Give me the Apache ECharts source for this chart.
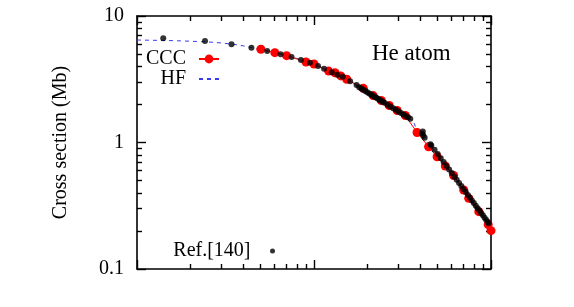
<!DOCTYPE html>
<html>
<head>
<meta charset="utf-8">
<script src="https://cdn.jsdelivr.net/npm/echarts@6/dist/echarts.min.js"></script>
<style>
html,body{margin:0;padding:0;background:#fff;}
#chart{width:574px;height:307px;}
#pad{position:absolute;left:540px;top:292px;font:9px monospace;color:#fff;}
</style>
</head>
<body>
<div id="chart"></div>
<div id="pad">.</div>
<script>
// HF (dashed blue line)
const hfX = [1, 1.5, 2, 2.5, 3, 3.5, 4, 4.5, 5, 6, 7, 8, 10, 12, 15, 20, 25, 30, 35, 37, 38, 42, 45, 50, 60, 70, 80, 90, 100];
const hfY = [6.46, 6.40, 6.32, 6.24, 6.12, 5.98, 5.80, 5.60, 5.42, 5.12, 4.88, 4.62, 4.17, 3.72, 3.22, 2.50, 2.07, 1.76, 1.54, 1.40, 1.22, 1.06, 0.95, 0.80, 0.575, 0.425, 0.325, 0.26, 0.205];
// CCC (red dots with red line)
const cccX = [5.01, 6.01, 7.0, 9.01, 10, 12.1, 13.15, 14.17, 15.3, 19.0, 21.6, 24.0, 26.6, 29.5, 32.8, 38.2, 44.4, 49.6, 55.2, 61.5, 70.1, 74.8, 85.3, 96.4, 100];
const cccY = [5.46, 5.13, 4.86, 4.33, 4.17, 3.67, 3.56, 3.36, 3.16, 2.68, 2.35, 2.15, 1.96, 1.79, 1.635, 1.20, 0.926, 0.772, 0.652, 0.548, 0.421, 0.362, 0.284, 0.225, 0.201];
// Ref.[140] (black dots)
const refX = [1.407, 2.422, 3.42, 4.43, 5.44, 6.48, 7.47, 8.44, 9.49, 10.54, 11.4, 12.6, 13.55, 14.54, 16.0, 17.4,
  18, 18.5, 19, 19.5, 20, 20.5, 21, 21.5, 22, 22.5, 23, 23.5, 24, 24.5, 25, 26, 27, 28, 29, 30, 31, 32, 33, 34, 35,
  40.75, 41.2, 41.5, 42.2,
  45.5, 46, 48, 50, 52, 54, 56, 58, 60, 62, 64, 66, 68, 70, 72, 74, 76, 78, 80, 82, 84, 86, 88, 90, 92, 94, 96, 97];
const refY = [6.66, 6.35, 5.97, 5.61, 5.29, 4.98, 4.74, 4.49, 4.27, 4.02, 3.83, 3.59, 3.44, 3.31, 3.05, 2.85,
  2.733, 2.669, 2.608, 2.551, 2.496, 2.443, 2.393, 2.345, 2.299, 2.255, 2.213, 2.172, 2.133, 2.096, 2.059, 1.991, 1.927, 1.868, 1.812, 1.760, 1.711, 1.665, 1.621, 1.580, 1.541,
  1.178, 1.222, 1.136, 1.091,
  0.969, 0.949, 0.8754, 0.8101, 0.7520, 0.7000, 0.6534, 0.6112, 0.5732, 0.5386, 0.5071, 0.4783, 0.4520, 0.4277, 0.4054, 0.3849, 0.3659, 0.3483, 0.3320, 0.3168, 0.3026, 0.2894, 0.2771, 0.2655, 0.2546, 0.2444, 0.2349, 0.2303];
// axis ticks
const xMinorTicks = [2, 3, 4, 5, 6, 7, 8, 9, 20, 30, 40, 50, 60, 70, 80, 90];
const yMinorTicks = [0.2, 0.3, 0.4, 0.5, 0.6, 0.7, 0.8, 0.9, 2, 3, 4, 5, 6, 7, 8, 9];

const zip = (xs, ys) => xs.map((x, i) => [x, ys[i]]);
const FONT = '"Liberation Serif", "Times New Roman", serif';
function axisBase(type, pos, extra) {
  return Object.assign({
    type: 'log', position: pos,
    min: type === 'x' ? 1 : 0.1, max: type === 'x' ? 100 : 10,
    axisLine: { show: true, lineStyle: { color: '#000', width: 1.6 } },
    axisTick: { show: true, inside: true, length: 9, lineStyle: { color: '#000', width: 1.4 } },
    axisLabel: { show: false },
    splitLine: { show: false }
  }, extra || {});
}
function minorAxis(type, pos, vals) {
  return axisBase(type, pos, {
    axisLine: { show: false },
    axisTick: { show: true, inside: true, length: 5, customValues: vals, lineStyle: { color: '#000', width: 1.4 } }
  });
}
// empty helper series so every frame/tick axis is bound to the grid's coordinate system
function frameSeries(i) {
  return { type: 'line', xAxisIndex: i, yAxisIndex: i, data: [], silent: true, showSymbol: false, lineStyle: { opacity: 0 } };
}
const chart = echarts.init(document.getElementById('chart'));
chart.setOption({
  animation: false,
  backgroundColor: '#fff',
  title: {
    text: 'He atom', left: 372, top: 42, padding: 0,
    textStyle: { fontFamily: FONT, fontWeight: 'normal', fontSize: 23, color: '#000' }
  },
  grid: { left: 137, right: 83, top: 16, bottom: 38 },
  xAxis: [ axisBase('x', 'bottom'), minorAxis('x', 'bottom', xMinorTicks), axisBase('x', 'top'), minorAxis('x', 'top', xMinorTicks) ],
  yAxis: [
    axisBase('y', 'left', {
      axisLabel: { show: true, fontSize: 20, color: '#000', fontFamily: FONT, margin: 13 },
      name: 'Cross section (Mb)', nameLocation: 'middle', nameRotate: 90, nameGap: 66,
      nameTextStyle: { fontSize: 20, color: '#000', fontFamily: FONT }
    }),
    minorAxis('y', 'left', yMinorTicks), axisBase('y', 'right'), minorAxis('y', 'right', yMinorTicks)
  ],
  legend: [
    {
      data: [{ name: 'CCC' }], right: 354, top: 49, orient: 'vertical', align: 'right',
      itemWidth: 20, itemHeight: 11, padding: 0, selectedMode: false,
      textStyle: { fontSize: 20, color: '#000', fontFamily: FONT, padding: [0, 8, 0, 0] }
    },
    {
      data: [{ name: 'HF', itemStyle: { opacity: 0 } }], right: 354, top: 69, orient: 'vertical', align: 'right',
      itemWidth: 20, itemHeight: 11, padding: 0, selectedMode: false,
      textStyle: { fontSize: 20, color: '#000', fontFamily: FONT, padding: [0, 8, 0, 0] }
    },
    {
      data: [{ name: 'Ref.[140]' }], right: 299, top: 241, orient: 'vertical', align: 'right',
      itemWidth: 34, itemHeight: 5, padding: 0, selectedMode: false,
      textStyle: { fontSize: 20, color: '#000', fontFamily: FONT }
    }
  ],
  series: [
    {
      name: 'HF', type: 'line', data: zip(hfX, hfY), showSymbol: false,
      lineStyle: { color: '#3a3af0', width: 1, type: [4, 4] }, itemStyle: { color: '#3a3af0' }, z: 2
    },
    {
      name: 'CCC', type: 'line', data: zip(cccX, cccY), symbol: 'circle', symbolSize: 9, showSymbol: true,
      lineStyle: { color: '#ff0000', width: 1 }, itemStyle: { color: '#ff0000' }, z: 3
    },
    {
      name: 'Ref.[140]', type: 'scatter', data: zip(refX, refY), symbol: 'circle', symbolSize: 6,
      itemStyle: { color: '#000' }, z: 4
    },
    frameSeries(1), frameSeries(2), frameSeries(3)
  ]
});
chart.getZr().refreshImmediately();
</script>
</body>
</html>
